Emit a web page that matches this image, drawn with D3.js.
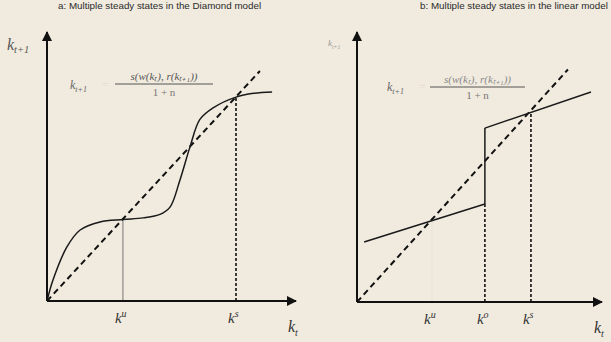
<!DOCTYPE html>
<html><head><meta charset="utf-8">
<script src="https://cdn.jsdelivr.net/npm/d3@7"></script>
<style>
html,body{margin:0;padding:0;background:#f1ebdf;}
svg{display:block;}
</style></head><body>
<svg id="c" width="611" height="342"></svg>
<script>
// ---- data ----
const titles = ["a: Multiple steady states in the Diamond model", "b: Multiple steady states in the linear model"];
// Panel a: S-shaped law of motion
const curveA_k    = [0, 0.24, 0.80, 1.33, 2.13, 3.05, 3.86, 4.54, 4.94, 5.34, 5.74, 6.14, 6.67, 7.59, 8.3, 9.04];
const curveA_next = [0, 0.78, 2.01, 2.64, 2.94, 3.03, 3.09, 3.22, 3.49, 4.50, 5.72, 6.75, 7.18, 7.58, 7.72, 7.77];
const steadyA_names  = ["u", "s"];
const steadyA_values = [3.05, 7.59];
const diagA_end = 8.55;
// Panel b: piecewise linear law of motion
const lowB_k    = [0.29, 5.22];
const lowB_next = [2.22, 3.63];
const highB_k    = [5.22, 9.55];
const highB_next = [6.44, 7.78];
const steadyB_names  = ["u", "o", "s"];
const steadyB_values = [3.06, 5.22, 7.10];
const diagB_end = 8.61;

const svg = d3.select("#c");
svg.append("rect").attr("width",611).attr("height",342).attr("fill","#f1ebdf");

const defs = svg.append("defs");
defs.append("marker").attr("id","arr").attr("viewBox","0 0 10 10")
  .attr("refX",9).attr("refY",5).attr("markerWidth",5).attr("markerHeight",5)
  .attr("orient","auto").attr("markerUnits","strokeWidth")
  .append("path").attr("d","M0,0 L10,5 L0,10 Z").attr("fill","#111");

function panel(opt){
  const x = d3.scaleLinear().domain([0,10]).range([opt.x0, opt.x1]);
  const y = d3.scaleLinear().domain([0,10]).range([opt.y0, opt.y1]);
  const g = svg.append("g");
  // title
  g.append("text").attr("x", opt.tx).attr("y", 9).text(opt.title)
    .attr("font-family","Liberation Sans, Arial, sans-serif").attr("font-size",9.8)
    .attr("fill","#2a2a2a");
  // vertical lines at steady states
  opt.sv.forEach((v,i)=>{
    const top = opt.vTop[i];
    g.append("line").attr("x1",x(v)).attr("x2",x(v)).attr("y1",y(0)).attr("y2",y(top))
      .attr("stroke", opt.vStyle[i]==="solid" ? opt.solidCol : "#111")
      .attr("stroke-width", opt.vStyle[i]==="solid" ? 1 : 1.6)
      .attr("stroke-dasharray", opt.vStyle[i]==="solid" ? null : "3,2");
  });
  // diagonal 45 degree line
  g.append("line").attr("x1",x(0)).attr("y1",y(0)).attr("x2",x(opt.diagEnd)).attr("y2",y(opt.diagEnd))
    .attr("stroke","#111").attr("stroke-width",2).attr("stroke-dasharray","6,4");
  // law of motion
  opt.curves.forEach(c=>{
    const line = d3.line().x(d=>x(d[0])).y(d=>y(d[1])).curve(c.curve);
    g.append("path").attr("d", line(d3.zip(c.k, c.n))).attr("fill","none")
      .attr("stroke","#1a1a1a").attr("stroke-width",1.5);
  });
  // axes
  g.append("line").attr("x1",x(0)).attr("y1",y(0)).attr("x2",x(0)).attr("y2",y(10))
    .attr("stroke","#111").attr("stroke-width",2).attr("marker-end","url(#arr)");
  g.append("line").attr("x1",x(0)).attr("y1",y(0)).attr("x2",x(10)).attr("y2",y(0))
    .attr("stroke","#111").attr("stroke-width",2).attr("marker-end","url(#arr)");
  // axis labels
  const serif = "Liberation Serif, Times New Roman, serif";
  opt.sv.forEach((v,i)=>{
    const t = g.append("text").attr("x", x(v)-8).attr("y", opt.y0+22)
      .attr("font-family",serif).attr("font-style","italic").attr("font-size",15).attr("fill","#333");
    t.append("tspan").text("k");
    t.append("tspan").text(opt.names[i]).attr("font-size",10).attr("dy",-6);
  });
  const kt = g.append("text").attr("x", x(10)-8).attr("y", opt.y0+31)
    .attr("font-family",serif).attr("font-style","italic").attr("font-size",16).attr("fill","#333");
  kt.append("tspan").text("k");
  kt.append("tspan").text("t").attr("font-size",10).attr("dy",4);
  // y label
  const yl = g.append("text").attr("x", opt.ylx).attr("y", opt.yly)
    .attr("font-family",serif).attr("font-style","italic").attr("font-size",opt.ylSize).attr("fill",opt.ylCol);
  yl.append("tspan").text("k");
  yl.append("tspan").text("t+1").attr("font-size",opt.ylSize*0.65).attr("dy",3);
  // formula
  const f = opt.f;
  const fl = g.append("text").attr("x", f.lx).attr("y", f.ly)
    .attr("font-family",serif).attr("font-style","italic").attr("font-size",12).attr("fill","#666");
  fl.append("tspan").text("k");
  fl.append("tspan").text("t+1").attr("font-size",8).attr("dy",3);
  g.append("text").attr("x", f.lx+32).attr("y", f.ly).text("=")
    .attr("font-family",serif).attr("font-size",12).attr("fill","#e4ddcf");
  g.append("text").attr("x",(f.b0+f.b1)/2).attr("y",f.by-4).attr("text-anchor","middle")
    .attr("font-family",serif).attr("font-style","italic").attr("font-size",11).attr("fill",f.numCol)
    .text("s(w(k\u209C), r(k\u209C\u208A\u2081))");
  g.append("line").attr("x1",f.b0).attr("x2",f.b1).attr("y1",f.by).attr("y2",f.by)
    .attr("stroke","#555").attr("stroke-width",1);
  g.append("text").attr("x",(f.b0+f.b1)/2).attr("y",f.by+12).attr("text-anchor","middle")
    .attr("font-family",serif).attr("font-size",11).attr("fill","#777").text("1 + n");
}

panel({
  title: titles[0], tx: 58,
  x0: 47, x1: 296, y0: 301, y1: 32,
  sv: steadyA_values, names: steadyA_names, vTop: [3.03, 7.58], vStyle: ["solid","dotted"], solidCol:"#777",
  diagEnd: diagA_end,
  curves: [{k: curveA_k, n: curveA_next, curve: d3.curveCatmullRom.alpha(0.5)}],
  ylx: 7, yly: 50, ylSize: 16, ylCol: "#555",
  f: {lx: 70, ly: 89, b0: 115, b1: 213, by: 84, numCol: "#555"}
});

panel({
  title: titles[1], tx: 420,
  x0: 357, x1: 602, y0: 302, y1: 32,
  sv: steadyB_values, names: steadyB_names, vTop: [3.02, 3.63, 7.02], vStyle: ["solid","dotted","dotted"], solidCol:"#e8e2d6",
  diagEnd: diagB_end,
  curves: [
    {k: lowB_k, n: lowB_next, curve: d3.curveLinear},
    {k: [lowB_k[1], highB_k[0]], n: [lowB_next[1], highB_next[0]], curve: d3.curveLinear},
    {k: highB_k, n: highB_next, curve: d3.curveLinear}
  ],
  ylx: 328, yly: 46, ylSize: 9, ylCol: "#999",
  f: {lx: 387, ly: 91, b0: 430, b1: 525, by: 87, numCol: "#888"}
});
</script>
</body></html>
